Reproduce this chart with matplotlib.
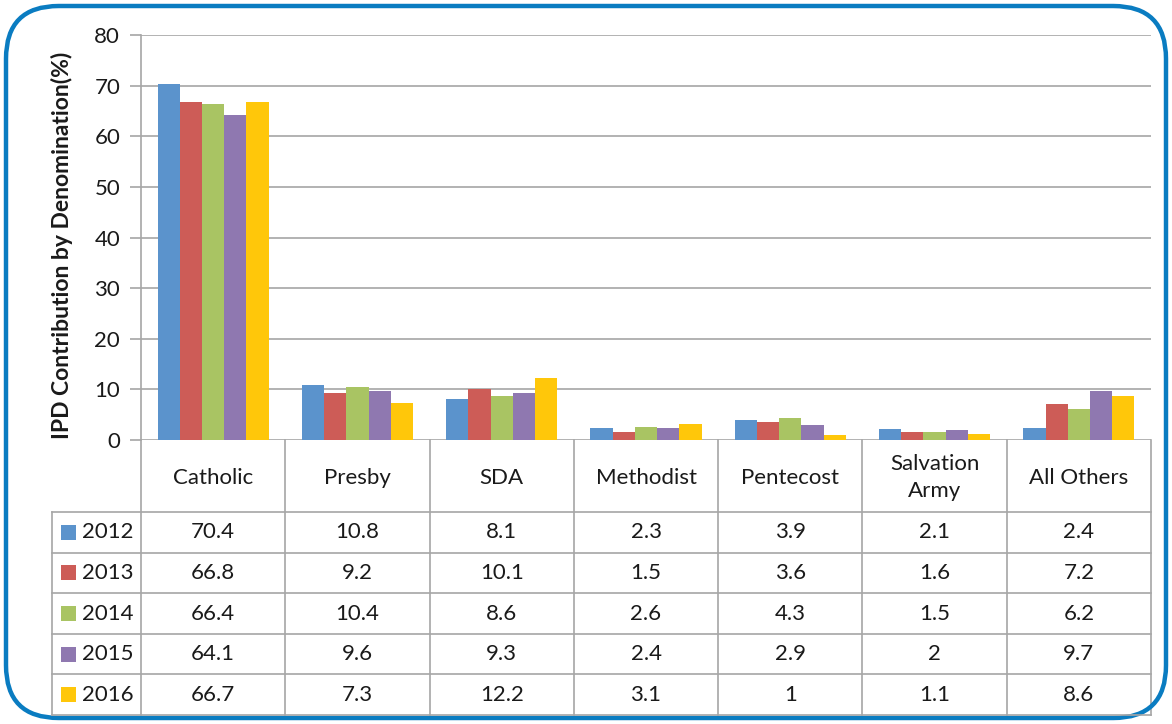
import numpy as np
import matplotlib.pyplot as plt
from matplotlib.patches import FancyBboxPatch, Rectangle
from matplotlib.transforms import blended_transform_factory

plt.rcParams['font.family'] = ['Lato', 'DejaVu Sans']

# DATA
categories = ['Catholic', 'Presby', 'SDA', 'Methodist', 'Pentecost', 'Salvation\nArmy', 'All Others']
years = ['2012', '2013', '2014', '2015', '2016']
v2012 = [70.4, 10.8, 8.1, 2.3, 3.9, 2.1, 2.4]
v2013 = [66.8, 9.2, 10.1, 1.5, 3.6, 1.6, 7.2]
v2014 = [66.4, 10.4, 8.6, 2.6, 4.3, 1.5, 6.2]
v2015 = [64.1, 9.6, 9.3, 2.4, 2.9, 2.0, 9.7]
v2016 = [66.7, 7.3, 12.2, 3.1, 1.0, 1.1, 8.6]
series = [v2012, v2013, v2014, v2015, v2016]
colors = ['#5B93CC', '#CD5C57', '#A9C463', '#8F78B0', '#FFC70A']

W, H = 1172, 724
FS = 16
TXT = '#1a1a1a'
fig = plt.figure(figsize=(W / 100, H / 100), dpi=100)

def fy(p):
    return 1 - p / H

# outer rounded border
border = FancyBboxPatch((6 / W, 6 / H), (W - 12) / W, (H - 12) / H,
                        boxstyle='round,pad=0,rounding_size=0.045',
                        transform=fig.transFigure, fill=False,
                        edgecolor='#0A7CC1', linewidth=3.2, mutation_aspect=W / H)
fig.patches.append(border)

ax_left, ax_right, ax_top, ax_bot = 141, 1151, 35, 440
ax = fig.add_axes([ax_left / W, fy(ax_bot), (ax_right - ax_left) / W, (ax_bot - ax_top) / H])

x = np.arange(len(categories))
bw = 0.154
for i, (vals, c) in enumerate(zip(series, colors)):
    ax.bar(x + (i - 2) * bw, vals, width=bw, color=c, zorder=3)

ax.set_xlim(-0.5, len(categories) - 0.5)
ax.set_ylim(0, 80)
ax.set_yticks(range(0, 81, 10))
ax.yaxis.grid(True, color='#A6A6A6', linewidth=1.2, zorder=0)
ax.set_xticks([])
for s in ['top', 'right', 'bottom']:
    ax.spines[s].set_visible(False)
ax.spines['left'].set_color('#A6A6A6')
ax.spines['left'].set_linewidth(1.2)
ax.tick_params(axis='y', length=8, color='#A6A6A6', width=1.2, labelsize=FS, pad=7, labelcolor=TXT)
ax.set_ylabel('IPD Contribution by Denomination(%)', fontsize=16.5, fontweight='bold', color=TXT)
ax.yaxis.set_label_coords(-0.067, 0.48)

# data table below the axes
tr = blended_transform_factory(ax.transData, fig.transFigure)
line_kw = dict(color='#A6A6A6', linewidth=1.2, clip_on=False)
head_bot = 512
row_h = 40.6
n_rows = len(years)
tbl_bot = head_bot + n_rows * row_h
left_px = 52

# vertical lines between categories
for k in range(len(categories) + 1):
    xb = k - 0.5
    ax.plot([xb, xb], [fy(ax_bot), fy(tbl_bot)], transform=tr, **line_kw)
# horizontal lines
for r in range(n_rows + 1):
    yy = fy(head_bot + r * row_h)
    fig.add_artist(plt.Line2D([left_px / W, ax_right / W], [yy, yy], transform=fig.transFigure, **line_kw))
fig.add_artist(plt.Line2D([left_px / W, left_px / W], [fy(head_bot), fy(tbl_bot)], transform=fig.transFigure, **line_kw))

# category headers
for k, cat in enumerate(categories):
    ax.text(k, fy((ax_bot + head_bot) / 2 + 1.5), cat, transform=tr, ha='center', va='center',
            fontsize=FS, color=TXT, linespacing=1.45)

# rows
for r, (yr, vals, c) in enumerate(zip(years, series, colors)):
    yc = head_bot + (r + 0.5) * row_h
    fig.add_artist(Rectangle((61 / W, fy(yc + 7.5)), 15 / W, 15 / H, transform=fig.transFigure,
                             facecolor=c, edgecolor='none'))
    fig.text(82 / W, fy(yc), yr, ha='left', va='center', fontsize=FS, color=TXT)
    for k, v in enumerate(vals):
        ax.text(k, fy(yc), f'{v:g}', transform=tr, ha='center', va='center', fontsize=FS, color=TXT)

fig.savefig('out.png', dpi=100)
